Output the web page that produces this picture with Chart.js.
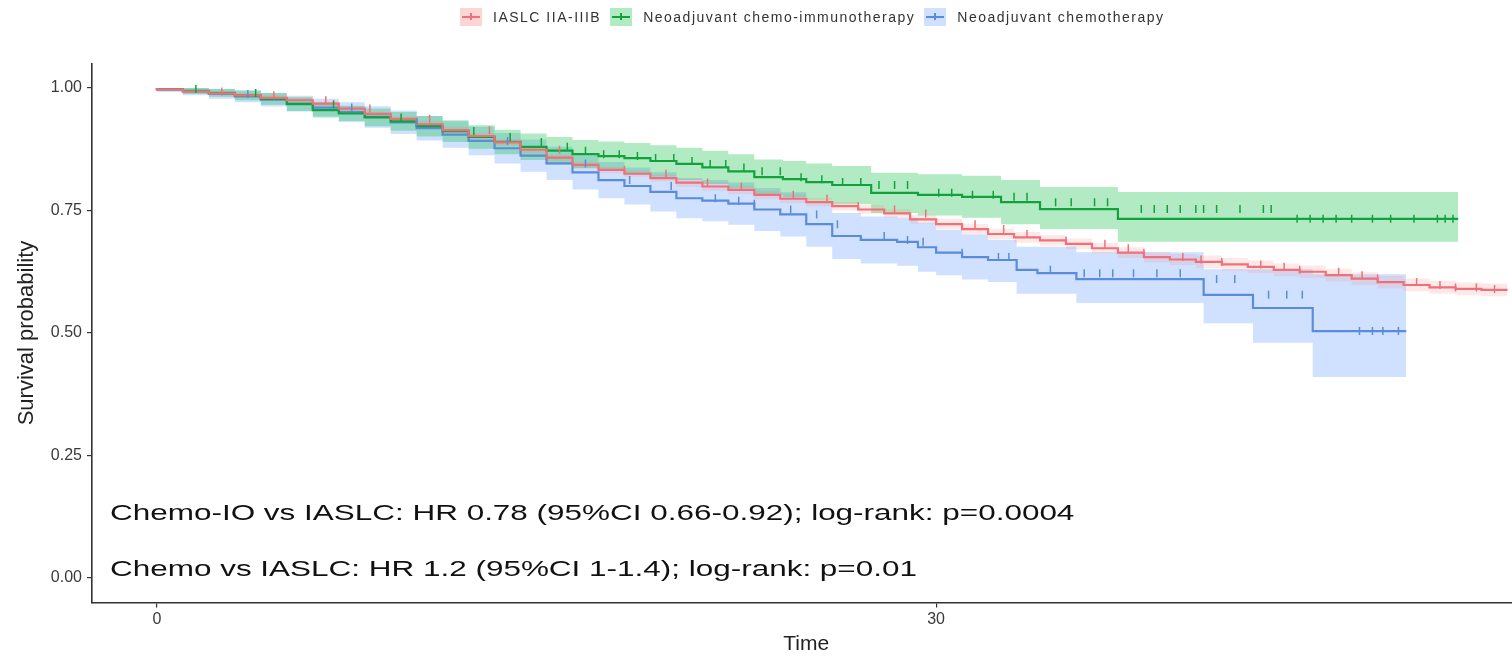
<!DOCTYPE html>
<html>
<head>
<meta charset="utf-8">
<title>Survival by treatment group</title>
<script src="https://cdn.jsdelivr.net/npm/chart.js@4.4.1/dist/chart.umd.min.js"></script>
<style>
    html, body { margin: 0; padding: 0; background: #fff; overflow: hidden; }
    #wrap { position: relative; width: 1526px; height: 657px; }
    #legend {
        position: absolute; top: 8px; left: 460px;
        display: flex; align-items: center;
        font-family: "Liberation Sans", Arial, sans-serif; font-size: 14px; color: #333;
        letter-spacing: 1.5px;
    }
    .item { display: flex; align-items: center; margin-right: 9px; }
    .key { width: 22px; height: 18px; position: relative; margin-right: 11px; }
    .key::before { content: ''; position: absolute; left: 2px; right: 2px; top: 8px; height: 2px; background: var(--c); }
    .key::after { content: ''; position: absolute; left: 10px; top: 5px; width: 2px; height: 7px; background: var(--c); }
</style>
</head>
<body>
<div id="wrap">
    <canvas id="km"></canvas>
    <div id="legend"></div>
</div>
<script>
// ── Kaplan–Meier estimates (time, survival, 95% CI, censoring times) ──────────
const iaslcTime  = [0, 1, 2, 3, 4, 5, 6, 7, 8, 9, 10, 11, 12, 13, 14, 15, 16, 17, 18, 19, 20, 21, 22, 23, 24, 25, 26, 27, 28, 29, 30, 31, 32, 33, 34, 35, 36, 37, 38, 39, 40, 41, 42, 43, 44, 45, 46, 47, 48, 49, 50, 51, 52];
const iaslcSurv  = [1.0, 0.997, 0.993, 0.989, 0.985, 0.98, 0.975, 0.968, 0.958, 0.947, 0.937, 0.926, 0.914, 0.902, 0.889, 0.874, 0.858, 0.843, 0.833, 0.825, 0.816, 0.807, 0.799, 0.792, 0.782, 0.774, 0.767, 0.759, 0.752, 0.744, 0.732, 0.722, 0.712, 0.702, 0.695, 0.689, 0.682, 0.673, 0.664, 0.655, 0.65, 0.645, 0.64, 0.635, 0.629, 0.625, 0.618, 0.611, 0.604, 0.598, 0.593, 0.59, 0.588];
const iaslcLow   = [1.0, 0.994, 0.99, 0.986, 0.98, 0.975, 0.97, 0.963, 0.953, 0.942, 0.932, 0.919, 0.907, 0.895, 0.882, 0.867, 0.851, 0.836, 0.826, 0.818, 0.809, 0.798, 0.79, 0.783, 0.773, 0.765, 0.758, 0.75, 0.743, 0.735, 0.723, 0.711, 0.701, 0.691, 0.684, 0.678, 0.671, 0.662, 0.653, 0.644, 0.639, 0.632, 0.627, 0.622, 0.616, 0.612, 0.605, 0.598, 0.591, 0.585, 0.58, 0.577, 0.575];
const iaslcHigh  = [1.0, 1.0, 0.996, 0.992, 0.99, 0.985, 0.98, 0.973, 0.963, 0.952, 0.942, 0.933, 0.921, 0.909, 0.896, 0.881, 0.865, 0.85, 0.84, 0.832, 0.823, 0.816, 0.808, 0.801, 0.791, 0.783, 0.776, 0.768, 0.761, 0.753, 0.741, 0.733, 0.723, 0.713, 0.706, 0.7, 0.693, 0.684, 0.675, 0.666, 0.661, 0.658, 0.653, 0.648, 0.642, 0.638, 0.631, 0.624, 0.617, 0.611, 0.606, 0.603, 0.601];
const iaslcCens  = [2.5, 4.5, 6.5, 8.2, 10.5, 12.8, 15.5, 18, 19.6, 21.2, 22.5, 24.5, 25.8, 27, 28.4, 29.6, 31.5, 32.6, 33.5, 35, 36.5, 37.4, 38, 39.5, 40.2, 41, 42.5, 43.4, 44, 45.5, 46.4, 47, 48.5, 49.4, 50, 50.8, 51.5];

const ioTime     = [0, 1, 2, 3, 4, 5, 6, 7, 8, 9, 10, 11, 12, 13, 14, 15, 16, 17, 18, 19, 20, 21, 22, 23, 24.1, 25, 26, 27.5, 29.3, 31, 32.5, 34, 37, 43.2, 50.1];
const ioSurv     = [1.0, 0.998, 0.994, 0.99, 0.985, 0.978, 0.967, 0.955, 0.948, 0.94, 0.932, 0.922, 0.912, 0.9, 0.89, 0.88, 0.872, 0.865, 0.861, 0.857, 0.851, 0.845, 0.838, 0.83, 0.818, 0.814, 0.808, 0.802, 0.786, 0.782, 0.778, 0.767, 0.753, 0.733, 0.733];
const ioLow      = [1.0, 0.994, 0.988, 0.982, 0.975, 0.966, 0.953, 0.94, 0.932, 0.922, 0.913, 0.901, 0.89, 0.876, 0.865, 0.853, 0.844, 0.836, 0.831, 0.826, 0.819, 0.812, 0.804, 0.795, 0.782, 0.777, 0.77, 0.763, 0.745, 0.74, 0.735, 0.722, 0.712, 0.686, 0.686];
const ioHigh     = [1.0, 1.0, 1.0, 0.998, 0.995, 0.99, 0.981, 0.97, 0.964, 0.958, 0.951, 0.943, 0.934, 0.924, 0.915, 0.907, 0.9, 0.894, 0.891, 0.888, 0.883, 0.878, 0.872, 0.865, 0.854, 0.851, 0.846, 0.841, 0.827, 0.824, 0.821, 0.812, 0.798, 0.788, 0.788];
const ioCens     = [1.5, 3.8, 6.8, 9.4, 12.2, 13.6, 14.8, 15.8, 16.5, 17.2, 17.8, 18.5, 19.2, 19.9, 20.6, 21.3, 21.9, 22.6, 23.3, 24.0, 24.8, 25.6, 26.4, 27.1, 27.8, 28.4, 28.9, 30.1, 30.6, 31.4, 32.2, 33.0, 33.5, 34.6, 35.2, 36.1, 36.6, 37.9, 38.4, 38.9, 39.4, 40.0, 40.3, 40.8, 41.7, 42.6, 42.9, 43.9, 44.4, 44.9, 45.4, 46.0, 46.8, 47.5, 48.4, 49.3, 49.6, 49.9];

const chemoTime  = [0, 1, 2, 3, 4, 5, 6, 7, 8, 9, 10, 11, 12, 13, 14, 15, 16, 17, 18, 19, 20, 21, 22, 23, 24, 25, 26, 27.1, 28.5, 29.3, 30, 31, 32, 33.1, 33.9, 35.4, 40.3, 42.2, 44.5, 45.9, 48.1];
const chemoSurv  = [1.0, 0.997, 0.993, 0.988, 0.983, 0.976, 0.968, 0.96, 0.951, 0.941, 0.93, 0.918, 0.905, 0.892, 0.877, 0.862, 0.846, 0.828, 0.812, 0.8, 0.788, 0.775, 0.77, 0.764, 0.752, 0.742, 0.722, 0.698, 0.69, 0.686, 0.675, 0.664, 0.655, 0.649, 0.629, 0.622, 0.61, 0.578, 0.551, 0.504, 0.504];
const chemoLow   = [1.0, 0.992, 0.985, 0.978, 0.971, 0.962, 0.952, 0.942, 0.931, 0.919, 0.906, 0.893, 0.878, 0.863, 0.846, 0.829, 0.812, 0.793, 0.775, 0.762, 0.748, 0.734, 0.728, 0.721, 0.708, 0.697, 0.676, 0.651, 0.642, 0.637, 0.625, 0.618, 0.609, 0.604, 0.58, 0.58, 0.561, 0.52, 0.48, 0.41, 0.41];
const chemoHigh  = [1.0, 1.0, 1.0, 0.998, 0.995, 0.99, 0.984, 0.978, 0.971, 0.963, 0.954, 0.943, 0.932, 0.921, 0.908, 0.895, 0.88, 0.863, 0.849, 0.838, 0.828, 0.816, 0.812, 0.807, 0.796, 0.787, 0.768, 0.745, 0.738, 0.735, 0.725, 0.71, 0.701, 0.69, 0.676, 0.676, 0.665, 0.63, 0.63, 0.62, 0.62];
const chemoCens  = [3.5, 7.5, 10, 13.5, 16.5, 18.2, 19.8, 21.5, 22.4, 23, 24.4, 25.4, 26.2, 28, 28.9, 29.5, 31, 32.4, 32.8, 34.4, 35.7, 36.3, 36.8, 37.6, 38.5, 39.4, 40.8, 41.5, 42.8, 43.5, 44.1, 46.3, 46.8, 47.2, 47.8];

const xTicks = [0, 30];
const yTicks = [0, 0.25, 0.5, 0.75, 1];

const annotations = [
    'Chemo-IO vs IASLC: HR 0.78 (95%CI 0.66-0.92); log-rank: p=0.0004',
    'Chemo vs IASLC: HR 1.2 (95%CI 1-1.4); log-rank: p=0.01'
];

// ── Series definitions ────────────────────────────────────────────────────────
const groups = [
    { name: 'IASLC IIA-IIIB', line: '#EE7078', fill: 'rgba(248,118,109,0.16)', key: 'rgba(248,118,109,0.3)',
      time: iaslcTime, surv: iaslcSurv, low: iaslcLow, high: iaslcHigh, cens: iaslcCens },
    { name: 'Neoadjuvant chemo-immunotherapy', line: '#12A23C', fill: 'rgba(0,186,56,0.3)', key: 'rgba(0,186,56,0.3)',
      time: ioTime, surv: ioSurv, low: ioLow, high: ioHigh, cens: ioCens },
    { name: 'Neoadjuvant chemotherapy', line: '#5B8BDB', fill: 'rgba(97,156,255,0.3)', key: 'rgba(97,156,255,0.3)',
      time: chemoTime, surv: chemoSurv, low: chemoLow, high: chemoHigh, cens: chemoCens }
];

const pts = (xs, ys) => xs.map((x, i) => ({ x, y: ys[i] }));

// survival value in force at time t (right-continuous step)
function stepAt(times, surv, t) {
    let v = surv[0];
    for (let i = 0; i < times.length; i++) if (times[i] <= t) v = surv[i];
    return v;
}

const datasets = [];

// confidence bands first so they sit under the curves
groups.forEach(g => {
    datasets.push({
        data: pts(g.time, g.low), stepped: 'after', borderWidth: 0,
        pointRadius: 0, fill: false, order: 10
    });
    datasets.push({
        data: pts(g.time, g.high), stepped: 'after', borderWidth: 0,
        pointRadius: 0, fill: '-1', backgroundColor: g.fill, order: 10
    });
});

groups.forEach(g => {
    datasets.push({
        data: pts(g.time, g.surv), stepped: 'after', borderColor: g.line,
        borderWidth: 2.2, pointRadius: 0, fill: false, order: 2
    });
    datasets.push({
        data: g.cens.map(t => ({ x: t, y: stepAt(g.time, g.surv, t) })),
        showLine: false, pointStyle: 'line', rotation: 90, pointRadius: 4,
        borderColor: g.line, borderWidth: 1.5, order: 1
    });
});

// ── Legend (top) ──────────────────────────────────────────────────────────────
document.getElementById('legend').innerHTML = groups.map(g => `
    <div class="item">
        <span class="key" style="--c:${g.line};background:${g.key}"></span>
        <span>${g.name}</span>
    </div>`).join('');

// ── Statistics text in the lower-left of the plot ─────────────────────────────
const statsText = {
    id: 'statsText',
    afterDraw(chart) {
        const { ctx, chartArea } = chart;
        ctx.save();
        ctx.fillStyle = '#111';
        ctx.font = '22px "Liberation Sans", Arial, sans-serif';
        ctx.textBaseline = 'alphabetic';
        annotations.forEach((txt, i) => {
            ctx.save();
            ctx.translate(chartArea.left + 18, 520 + i * 56);
            ctx.scale(1.43, 1);
            ctx.fillText(txt, 0, 0);
            ctx.restore();
        });
        ctx.restore();
    }
};

const axisFont = { family: '"Liberation Sans", Arial, sans-serif', size: 16 };

new Chart(document.getElementById('km'), {
    type: 'line',
    data: { datasets },
    options: {
        responsive: true,
        maintainAspectRatio: false,
        animation: false,
        layout: { padding: { top: 63.5, right: 0, left: 0, bottom: 0 } },
        plugins: { legend: { display: false }, tooltip: { enabled: false } },
        scales: {
            x: {
                type: 'linear', min: -2.5, max: 52.5,
                afterBuildTicks: s => { s.ticks = xTicks.map(v => ({ value: v })); },
                afterFit: s => { s.height = 54.5; },
                grid: { drawOnChartArea: false, drawTicks: true, tickLength: 5, color: '#333', lineWidth: 1.2 },
                border: { display: true, color: '#333', width: 1.6 },
                ticks: { color: '#3a3a3a', font: axisFont, padding: 2, maxRotation: 0 },
                title: { display: true, text: 'Time', color: '#222',
                         font: { family: axisFont.family, size: 21 }, padding: { top: 0, bottom: 0 } }
            },
            y: {
                type: 'linear', min: -0.05, max: 1.05,
                afterBuildTicks: s => { s.ticks = yTicks.map(v => ({ value: v })); },
                afterFit: s => { s.width = 92; },
                grid: { drawOnChartArea: false, drawTicks: true, tickLength: 5, color: '#333', lineWidth: 1.2 },
                border: { display: true, color: '#333', width: 1.6 },
                ticks: { color: '#3a3a3a', font: axisFont, padding: 5, callback: v => v.toFixed(2) },
                title: { display: true, text: 'Survival probability', color: '#222',
                         font: { family: axisFont.family, size: 22 }, padding: { top: 14, bottom: 0 } }
            }
        }
    },
    plugins: [statsText]
});
</script>
</body>
</html>
